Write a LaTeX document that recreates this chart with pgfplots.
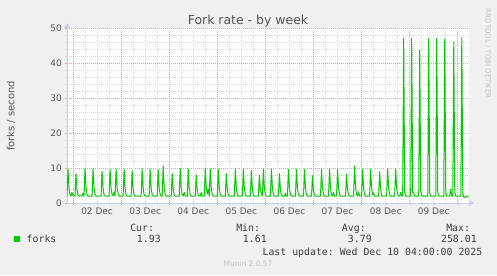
\documentclass[border=0pt]{standalone}
\usepackage{pgfplots}
\pgfplotsset{compat=1.18}
\usetikzlibrary{arrows.meta}
\usepackage{fontspec}
\setmainfont{DejaVu Sans}
\setmonofont{DejaVu Sans Mono}
\definecolor{bg}{RGB}{240,240,240}
\definecolor{majgrid}{RGB}{240,150,150}
\definecolor{mingrid}{RGB}{215,215,215}
\definecolor{axcol}{RGB}{200,205,245}
\definecolor{fgreen}{RGB}{0,204,0}
\definecolor{txt}{RGB}{85,85,85}
\definecolor{legtxt}{RGB}{60,60,60}
\definecolor{faint}{RGB}{195,195,195}
\begin{document}
\begin{tikzpicture}[x=1bp,y=1bp]
\fill[bg] (0,0) rectangle (497,275);
\path[use as bounding box] (0,0) rectangle (497,275);
\begin{axis}[
  at={(67bp,72bp)}, anchor=south west,
  scale only axis, width=402bp, height=175bp,
  xmin=-3, xmax=197.6, ymin=0, ymax=50,
  axis background/.style={fill=white},
  axis lines=left,
  axis line style={draw=axcol, line width=1bp, -{Triangle[width=6bp,length=5bp]}, shorten >=-5bp},
  xtick={0,24,...,192},
  xticklabels={02 Dec,03 Dec,04 Dec,05 Dec,06 Dec,07 Dec,08 Dec,09 Dec,{}},
  minor x tick num=3,
  ytick={0,10,...,50}, minor y tick num=4,
  xmajorgrids=false, xminorgrids=false, ymajorgrids=true, yminorgrids=true,
  major grid style={draw=majgrid, dash pattern=on 1bp off 1bp, line width=0.6bp},
  minor grid style={draw=mingrid, dash pattern=on 1bp off 1bp, line width=0.6bp},
  tick align=outside, major tick length=2bp, minor tick length=2bp,
  every major tick/.append style={draw=majgrid},
  every minor tick/.append style={draw=mingrid},
  /pgf/number format/assume math mode=true,
  ticklabel style={font=\fontsize{9}{10}\selectfont, text=txt},
  yticklabel style={anchor=east, inner sep=0pt, xshift=-3bp},
  xticklabel style={anchor=north, inner sep=0pt, yshift=-3bp, xshift=24.05bp},
  clip=true,
]
\pgfplotsinvokeforeach{6,12,18,30,36,42,54,60,66,78,84,90,102,108,114,126,132,138,150,156,162,174,180,186}{
  \draw[mingrid, dash pattern=on 1bp off 1bp, line width=0.6bp] (axis cs:#1,0) -- (axis cs:#1,50);
}
\pgfplotsinvokeforeach{0,24,48,72,96,120,144,168,192}{
  \draw[majgrid, dash pattern=on 1bp off 1bp, line width=0.6bp] (axis cs:#1,0) -- (axis cs:#1,50);
}
\addplot[fgreen, line width=1bp, line join=round] coordinates {
(-3,2.0)(-2.5,9.7)(-2,4.2)(-1.5,2.4)(-1,2.0)(-0.5,3.0)(0,2.1)
(1,2.0)(1.5,8.4)(2,3.8)(2.5,2.3)(3,2.0)(4.5,2.1)(5,2.8)(5.5,2.0)
(6,10.0)(6.5,4.3)(7,2.4)(7.5,2.0)(9.5,2.0)
(10,9.8)(10.5,4.2)(11,2.4)(11.5,2.0)(14,2.0)
(14.5,9.1)(15,4.0)(15.5,2.3)(16,2.0)(18,2.0)
(18.5,9.7)(19,4.2)(19.5,2.4)(20,2.1)(20.5,3.2)(21,2.0)
(21.5,9.7)(22,4.2)(22.5,2.8)(23,2.0)(25,2.0)
(25.5,9.7)(26,4.2)(26.5,2.4)(27,2.0)(29,2.0)
(29.5,9.3)(30,4.1)(30.5,2.3)(31,2.0)(34,2.0)
(34.5,9.7)(35,4.2)(35.5,2.4)(36,2.0)(38,2.0)
(38.5,9.7)(39,4.2)(39.5,2.4)(40,2.0)(42,2.0)
(42.5,9.6)(43,4.2)(43.5,2.4)(44,2.0)(44.5,2.0)
(45,10.6)(45.5,4.5)(46,2.4)(46.5,2.0)(49,2.0)
(49.5,8.4)(50,3.8)(50.5,2.3)(51,2.0)(53,2.0)
(53.5,10.0)(54,4.3)(54.5,2.4)(55,2.1)(55.5,3.0)(56,2.0)(57,2.0)
(57.5,9.7)(58,4.2)(58.5,2.4)(59,2.0)(61,2.0)
(61.5,8.0)(62,3.6)(62.5,2.3)(63,2.0)(63.5,2.0)(64,3.0)(64.5,2.0)(65.5,2.0)
(66,10.0)(66.5,4.3)(67,2.6)(67.5,4.0)(68,2.0)
(68.5,9.7)(69,4.2)(69.5,2.4)(70,2.0)(72,2.0)
(72.5,9.7)(73,4.2)(73.5,2.4)(74,2.0)(76,2.0)
(76.5,8.4)(77,3.8)(77.5,2.3)(78,2.0)(80.5,2.0)
(81,9.7)(81.5,4.2)(82,2.4)(82.5,2.0)(84.5,2.0)
(85,9.7)(85.5,4.2)(86,2.4)(86.5,2.0)(88.5,2.0)
(89,9.3)(89.5,4.1)(90,2.3)(90.5,2.0)(92.5,2.0)
(93,8.0)(93.5,3.6)(94,2.8)(94.5,2.0)
(95,9.7)(95.5,4.2)(96,2.4)(96.5,2.0)(98.5,2.0)
(99,9.7)(99.5,4.2)(100,2.4)(100.5,2.0)(102.5,2.0)
(103,8.4)(103.5,3.8)(104,2.3)(104.5,2.0)(105.5,2.0)(106,2.8)(106.5,2.0)(107,2.0)
(107.5,9.7)(108,4.2)(108.5,2.4)(109,2.0)(111,2.0)
(111.5,9.7)(112,4.2)(112.5,2.4)(113,2.0)(115,2.0)
(115.5,9.7)(116,4.2)(116.5,2.4)(117,2.0)(119,2.0)
(119.5,7.8)(120,3.5)(120.5,2.3)(121,2.0)(123.5,2.0)
(124,9.7)(124.5,4.2)(125,2.4)(125.5,2.0)(127.5,2.0)
(128,9.7)(128.5,4.2)(129,2.4)(129.5,2.0)(130,3.0)(130.5,2.0)(131.5,2.0)
(132,9.7)(132.5,4.2)(133,2.4)(133.5,2.0)(136,2.0)
(136.5,8.3)(137,3.7)(137.5,2.3)(138,2.0)(140,2.0)
(140.5,10.6)(141,4.5)(141.5,2.4)(142,2.0)(142.5,3.2)(143,2.0)(144,2.0)
(144.5,9.7)(145,4.2)(145.5,2.4)(146,2.0)(148,2.0)
(148.5,9.7)(149,4.2)(149.5,2.4)(150,2.7)(150.5,2.0)(152.5,2.0)
(153,8.9)(153.5,4.0)(154,2.3)(154.5,2.0)(156.5,2.0)
(157,9.8)(157.5,4.2)(158,2.4)(158.5,2.0)(160.5,2.0)
(161,9.8)(161.5,4.2)(162,2.4)(162.5,2.0)(163,2.0)(163.5,3.0)(164,2.0)(164.5,2.0)
(165,47.0)(165.5,3.0)(166,2.0)(168.5,2.0)
(169,47.0)(169.5,3.0)(170,2.8)(170.5,2.0)(172.5,2.0)
(173,43.7)(173.5,3.5)(174,2.2)(174.5,2.0)(177,2.0)
(177.5,47.0)(178,3.0)(178.5,2.0)(181,2.0)
(181.5,47.0)(182,3.0)(182.5,2.0)(185,2.0)
(185.5,47.0)(186,3.0)(186.5,2.0)(188,2.0)(188.5,4.0)(189,2.0)(189.5,2.0)
(190,46.0)(190.5,3.0)(191,2.0)(193.5,2.0)
(194,47.3)(194.5,2.5)(195,1.7)(196,1.6)(196.5,1.9)(197.5,2.0)
};
\end{axis}
\tikzset{every node/.style={inner sep=0pt, outer sep=0pt}}
\node[anchor=base, font=\fontsize{12.5}{14}\selectfont, text=txt] at (248,250.5) {Fork rate - by week};
\node[rotate=90, font=\fontsize{10}{12}\selectfont, text=txt] at (11,159) {forks / second};
\node[rotate=-90, anchor=west, font=\fontsize{7}{8}\selectfont, text=faint] at (488,266) {RRDTOOL / TOBI OETIKER};
\fill[fgreen] (14,33) rectangle (20,39);
\begin{scope}[every node/.append style={font=\ttfamily\fontsize{9.9}{11}\selectfont, text=legtxt}]
\node[anchor=base west] at (26.7,32.3) {forks};
\node[anchor=base east] at (154,44) {Cur:};
\node[anchor=base east] at (260,44) {Min:};
\node[anchor=base east] at (365.7,44) {Avg:};
\node[anchor=base east] at (470,44) {Max:};
\node[anchor=base east] at (160.7,32.3) {1.93};
\node[anchor=base east] at (266.7,32.3) {1.61};
\node[anchor=base east] at (371.7,32.3) {3.79};
\node[anchor=base east] at (476.7,32.3) {258.01};
\node[anchor=base east] at (482.3,20) {Last update: Wed Dec 10 04:00:00 2025};
\end{scope}
\node[anchor=base, font=\fontsize{7.5}{9}\selectfont, text=faint] at (248,8.3) {Munin 2.0.57};
\end{tikzpicture}
\end{document}
